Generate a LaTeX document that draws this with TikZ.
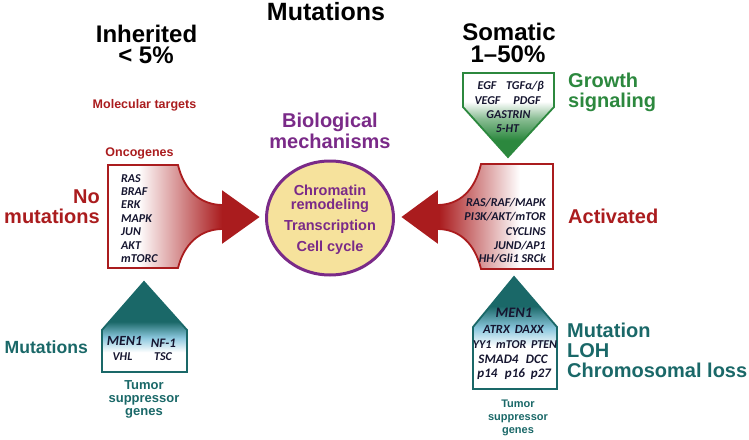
\documentclass[tikz,border=0pt]{standalone}
\usepackage{fontspec}
\setmainfont{Liberation Sans}
\newfontfamily\genefont{Carlito}
\usetikzlibrary{shapes.geometric}
\definecolor{myred}{RGB}{170,28,30}
\definecolor{mygreen}{RGB}{44,136,62}
\definecolor{myteal}{RGB}{26,104,104}
\definecolor{mypurple}{RGB}{122,42,136}
\definecolor{circfill}{RGB}{246,226,156}
\definecolor{genecol}{RGB}{22,22,48}
\definecolor{lightblu}{RGB}{140,200,222}
\pgfdeclarehorizontalshading{redLR}{100bp}{color(0bp)=(white); color(35bp)=(white); color(63bp)=(myred); color(100bp)=(myred)}
\pgfdeclarehorizontalshading{redRL}{100bp}{color(0bp)=(myred); color(37bp)=(myred); color(64bp)=(white); color(100bp)=(white)}
\pgfdeclareverticalshading{greenV}{100bp}{color(0bp)=(mygreen); color(35bp)=(mygreen); color(48bp)=(mygreen!55); color(58bp)=(white); color(100bp)=(white)}
\pgfdeclareverticalshading{tealL}{100bp}{color(0bp)=(white); color(36bp)=(white); color(44bp)=(lightblu); color(53bp)=(myteal); color(100bp)=(myteal)}
\pgfdeclareverticalshading{tealR}{100bp}{color(0bp)=(white); color(44bp)=(white); color(52bp)=(lightblu); color(62bp)=(myteal); color(100bp)=(myteal)}
\tikzset{
  ttl/.style={font=\bfseries\fontsize{24}{26}\selectfont, text=black, inner sep=0pt, anchor=base},
  lab/.style={font=\bfseries\fontsize{20}{22}\selectfont, inner sep=0pt},
  small/.style={font=\bfseries\fontsize{12.5}{14}\selectfont, inner sep=0pt, anchor=base},
  gene/.style={font=\genefont\bfseries\itshape\fontsize{12}{13}\selectfont, text=genecol, inner sep=0pt},
  circtxt/.style={font=\bfseries\fontsize{14.5}{16}\selectfont, text=mypurple, inner sep=0pt, anchor=base},
}
\begin{document}
\begin{tikzpicture}[x=1pt,y=-1pt]
\useasboundingbox (0,0) rectangle (749,439);
% titles
\node[ttl, font=\bfseries\fontsize{25}{27}\selectfont] (tmut) at (326,20) {Mutations};
\node[ttl] (tinh) at (146.5,42) {Inherited};
\node[ttl] (tinh2) at (146,63.5) {< 5\%};
\node[ttl] (tsom) at (509,40) {Somatic};
\node[ttl] (tsom2) at (508,62) {1–50\%};
\node[small, text=myred] (moltar) at (144.5,108) {Molecular targets};
\node[small, text=myred] (onco) at (139.5,156) {Oncogenes};
\node[lab, text=mypurple, anchor=base] (bio1) at (330,127) {Biological};
\node[lab, text=mypurple, anchor=base] (bio2) at (330,148) {mechanisms};

% left red arrow box
\shadedraw[shading=redLR, draw=myred, line width=1.8pt]
  (108,165) -- (178,165) .. controls (184,190) and (200,205) .. (223,205)
  -- (223,192) -- (258,217) -- (223,242) -- (223,229)
  .. controls (200,229) and (184,244) .. (178,268) -- (108,268) -- cycle;
% right red arrow box
\shadedraw[shading=redRL, draw=myred, line width=1.8pt]
  (553,164) -- (481,164) .. controls (475,190) and (460,205) .. (437,205)
  -- (437,192) -- (403,217) -- (437,242) -- (437,229)
  .. controls (460,229) and (475,244) .. (481,269) -- (553,269) -- cycle;

% circle
\node[ellipse, draw=mypurple, line width=3pt, fill=circfill, minimum width=127pt, minimum height=114pt, inner sep=0pt] (circ) at (330,218) {};
\node[circtxt] (c1) at (330,195) {Chromatin};
\node[circtxt] (c2) at (330,209.5) {remodeling};
\node[circtxt] (c3) at (330,230.5) {Transcription};
\node[circtxt] (c4) at (330,251) {Cell cycle};

% left genes
\node[gene, anchor=base west] (lg1) at (121,182.3) {RAS};
\node[gene, anchor=base west] (lg2) at (121,195.3) {BRAF};
\node[gene, anchor=base west] (lg3) at (121,208.6) {ERK};
\node[gene, anchor=base west] (lg4) at (121,222.3) {MAPK};
\node[gene, anchor=base west] (lg5) at (121,235.7) {JUN};
\node[gene, anchor=base west] (lg6) at (121,249) {AKT};
\node[gene, anchor=base west] (lg7) at (121,262.3) {mTORC};
% right genes
\node[gene, anchor=base east] (rg1) at (546,206) {RAS/RAF/MAPK};
\node[gene, anchor=base east] (rg2) at (546,220.5) {PI3K/AKT/mTOR};
\node[gene, anchor=base east] (rg3) at (546,235) {CYCLINS};
\node[gene, anchor=base east] (rg4) at (546,249) {JUND/AP1};
\node[gene, anchor=base east] (rg5) at (546,262.5) {HH/Gli1 SRCk};

\node[lab, text=myred, anchor=base east] (nm1) at (100,203) {No};
\node[lab, text=myred, anchor=base east] (nm2) at (100,223) {mutations};
\node[lab, text=myred, anchor=base west] (act) at (568,223) {Activated};

% green pentagon
\shadedraw[shading=greenV, draw=mygreen, line width=1.8pt]
  (463,73) -- (554,73) -- (554,107) -- (508,157) -- (463,107) -- cycle;
\node[gene, anchor=base] (g1) at (487,89) {EGF};
\node[gene, anchor=base] (g2) at (525,89) {TGFα/β};
\node[gene, anchor=base] (g3) at (487.5,104) {VEGF};
\node[gene, anchor=base] (g4) at (527,104) {PDGF};
\node[gene, anchor=base] (g5) at (508.5,118) {GASTRIN};
\node[gene, anchor=base] (g6) at (507.5,132) {5-HT};
\node[lab, text=mygreen, anchor=base west] (gr1) at (568,87) {Growth};
\node[lab, text=mygreen, anchor=base west] (gr2) at (568,107) {signaling};

% left teal pentagon
\shadedraw[shading=tealL, draw=myteal, line width=1.8pt]
  (144,282) -- (187,330) -- (187,372) -- (102,372) -- (102,330) -- cycle;
\node[gene, anchor=base, font=\genefont\bfseries\itshape\fontsize{14}{15}\selectfont] (t1) at (124.5,345) {MEN1};
\node[gene, anchor=base, font=\genefont\bfseries\itshape\fontsize{13}{14}\selectfont] (t2) at (163.5,347) {NF-1};
\node[gene, anchor=base] (t3) at (122.5,360) {VHL};
\node[gene, anchor=base] (t4) at (163,360) {TSC};
\node[lab, text=myteal, anchor=base east, font=\bfseries\fontsize{17.6}{20}\selectfont] (lmut) at (88,353) {Mutations};
\node[small, text=myteal, font=\bfseries\fontsize{13}{14}\selectfont] (lts1) at (144,389) {Tumor};
\node[small, text=myteal, font=\bfseries\fontsize{13}{14}\selectfont] (lts2) at (144,402) {suppressor};
\node[small, text=myteal, font=\bfseries\fontsize{13}{14}\selectfont] (lts3) at (144,415) {genes};

% right teal pentagon
\shadedraw[shading=tealR, draw=myteal, line width=1.8pt]
  (514,277) -- (557,327) -- (557,389) -- (473,389) -- (473,327) -- cycle;
\node[gene, anchor=base, font=\genefont\bfseries\itshape\fontsize{14.5}{15}\selectfont] (u1) at (514,317) {MEN1};
\node[gene, anchor=base, font=\genefont\bfseries\itshape\fontsize{12.5}{14}\selectfont] (u2) at (513.5,333) {ATRX\, DAXX};
\node[gene, anchor=base] (u3) at (515,348) {YY1\, mTOR\, PTEN};
\node[gene, anchor=base, font=\genefont\bfseries\itshape\fontsize{13}{14}\selectfont] (u4) at (513,363) {SMAD4\,\, DCC};
\node[gene, anchor=base, font=\genefont\bfseries\itshape\fontsize{13}{14}\selectfont] (u5) at (487.5,377) {p14};
\node[gene, anchor=base, font=\genefont\bfseries\itshape\fontsize{13}{14}\selectfont] (u6) at (515,377) {p16};
\node[gene, anchor=base, font=\genefont\bfseries\itshape\fontsize{13}{14}\selectfont] (u7) at (541,377) {p27};
\node[lab, text=myteal, anchor=base west] (m1) at (567,337) {Mutation};
\node[lab, text=myteal, anchor=base west] (m2) at (567,357) {LOH};
\node[lab, text=myteal, anchor=base west] (m3) at (567,377) {Chromosomal loss};
\node[small, text=myteal, font=\bfseries\fontsize{11}{12}\selectfont] (rts1) at (518,407) {Tumor};
\node[small, text=myteal, font=\bfseries\fontsize{11}{12}\selectfont] (rts2) at (518,420) {suppressor};
\node[small, text=myteal, font=\bfseries\fontsize{11}{12}\selectfont] (rts3) at (518,433) {genes};
\end{tikzpicture}
\end{document}
